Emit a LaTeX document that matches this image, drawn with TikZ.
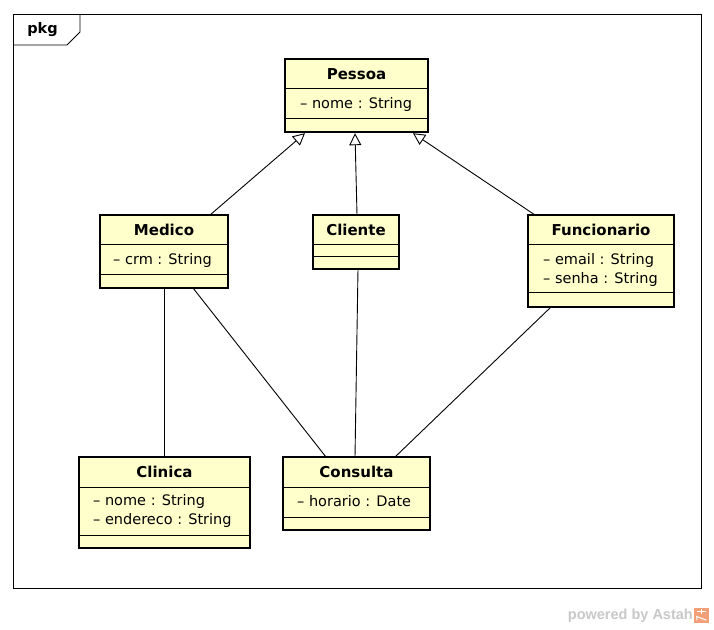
\documentclass[tikz,border=0pt]{standalone}
\usepackage{fontspec}
\setmainfont{DejaVu Sans}
\newfontfamily\astahfont{Liberation Sans}
\usetikzlibrary{arrows.meta,calc}
\definecolor{classfill}{RGB}{255,255,204}
\definecolor{astahgray}{RGB}{200,200,200}
\definecolor{astahorange}{RGB}{243,160,120}
\begin{document}
\begin{tikzpicture}[x=1pt,y=-1pt,
  classbox/.style={draw=black, line width=2.5pt, fill=classfill, inner sep=0pt, outer sep=0pt, anchor=north west},
  sepline/.style={line width=0.9pt},
  ctitle/.style={font=\fontsize{15}{17}\selectfont\bfseries, inner sep=0pt},
  cattr/.style={font=\fontsize{14.5}{17}\selectfont, inner sep=0pt, anchor=west},
  gen/.style={line width=0.9pt, -{Triangle[open, length=12pt, width=12pt, line width=0.9pt]}},
  assoc/.style={line width=0.9pt}]
\useasboundingbox (0,0) rectangle (714,629);
\fill[white] (0,0) rectangle (714,629);

% package frame
\node[draw=black, line width=0.9pt, minimum width=688pt, minimum height=574pt, inner sep=0pt, anchor=north west] (frame) at (13,14) {};
\coordinate (tabA) at (80,14);
\coordinate (tabB) at (80,32);
\coordinate (tabC) at (67,45);
\coordinate (tabD) at (13,45);
\draw[line width=0.9pt] (tabA) -- (tabB) -- (tabC) -- (tabD);
\node[font=\fontsize{14.5}{16}\selectfont\bfseries, inner sep=0pt] (pkg) at (42.5,30) {pkg};

% Pessoa
\node[classbox, minimum width=143pt, minimum height=73pt] (pessoa) at (285,59) {};
\draw[sepline] (pessoa.west |- 0,88) -- (pessoa.east |- 0,88);
\draw[sepline] (pessoa.west |- 0,118) -- (pessoa.east |- 0,118);
\node[ctitle] (pessoaT) at (356.5,74) {Pessoa};
\node[cattr] (pessoaA1) at (300,104) {– nome : String};

% Medico
\node[classbox, minimum width=128pt, minimum height=73pt] (medico) at (100,215) {};
\draw[sepline] (medico.west |- 0,244) -- (medico.east |- 0,244);
\draw[sepline] (medico.west |- 0,274) -- (medico.east |- 0,274);
\node[ctitle] (medicoT) at (164,230) {Medico};
\node[cattr] (medicoA1) at (113,260) {– crm : String};

% Cliente
\node[classbox, minimum width=86pt, minimum height=54pt] (cliente) at (313,215) {};
\draw[sepline] (cliente.west |- 0,244) -- (cliente.east |- 0,244);
\draw[sepline] (cliente.west |- 0,256) -- (cliente.east |- 0,256);
\node[ctitle] (clienteT) at (356,230) {Cliente};

% Funcionario
\node[classbox, minimum width=146pt, minimum height=92pt] (func) at (528,215) {};
\draw[sepline] (func.west |- 0,244) -- (func.east |- 0,244);
\draw[sepline] (func.west |- 0,292) -- (func.east |- 0,292);
\node[ctitle] (funcT) at (601,230) {Funcionario};
\node[cattr] (funcA1) at (543,260) {– email : String};
\node[cattr] (funcA2) at (543,279) {– senha : String};

% Clinica
\node[classbox, minimum width=171pt, minimum height=91pt] (clinica) at (79,457) {};
\draw[sepline] (clinica.west |- 0,487) -- (clinica.east |- 0,487);
\draw[sepline] (clinica.west |- 0,535) -- (clinica.east |- 0,535);
\node[ctitle] (clinicaT) at (164.5,472) {Clinica};
\node[cattr] (clinicaA1) at (93,501) {– nome : String};
\node[cattr] (clinicaA2) at (93,520) {– endereco : String};

% Consulta
\node[classbox, minimum width=147pt, minimum height=73pt] (consulta) at (283,457) {};
\draw[sepline] (consulta.west |- 0,487) -- (consulta.east |- 0,487);
\draw[sepline] (consulta.west |- 0,517) -- (consulta.east |- 0,517);
\node[ctitle] (consultaT) at (356.5,472) {Consulta};
\node[cattr] (consultaA1) at (297,501) {– horario : Date};

% generalizations
\draw[gen] (medico.north -| 210,0) -- ($(pessoa.south -| 305,0)+(0,1.2)$);
\draw[gen] (cliente.north -| 357,0) -- ($(pessoa.south -| 355,0)+(0,1.2)$);
\draw[gen] (func.north -| 535,0) -- ($(pessoa.south -| 413,0)+(0,1.2)$);

% associations
\draw[assoc] (medico.south -| 164,0) -- (clinica.north -| 164,0);
\draw[assoc] (medico.south -| 193,0) -- (consulta.north -| 326,0);
\draw[assoc] (cliente.south -| 358,0) -- (consulta.north -| 355,0);
\draw[assoc] (func.south -| 551,0) -- (consulta.north -| 395,0);

% powered by Astah
\node[font=\astahfont\fontsize{14.5}{16}\selectfont\bfseries, text=astahgray, inner sep=0pt, anchor=east] (powered) at (693,616) {powered by Astah};
\node[fill=astahorange, minimum width=15pt, minimum height=15pt, inner sep=0pt, anchor=west] (logo) at (694,615.5) {};
\draw[white, line width=1pt] ([xshift=3pt,yshift=-4pt]logo.north west) -- ([xshift=-3pt,yshift=-4pt]logo.north east);
\draw[white, line width=1pt] ([yshift=-1pt]logo.north) -- ([yshift=-6pt]logo.north);
\draw[white, line width=1pt] ([xshift=3pt,yshift=3pt]logo.south west) -- ([xshift=-5pt,yshift=-1pt]logo.center) -- ([xshift=-3pt,yshift=3pt]logo.south east);
\end{tikzpicture}
\end{document}
